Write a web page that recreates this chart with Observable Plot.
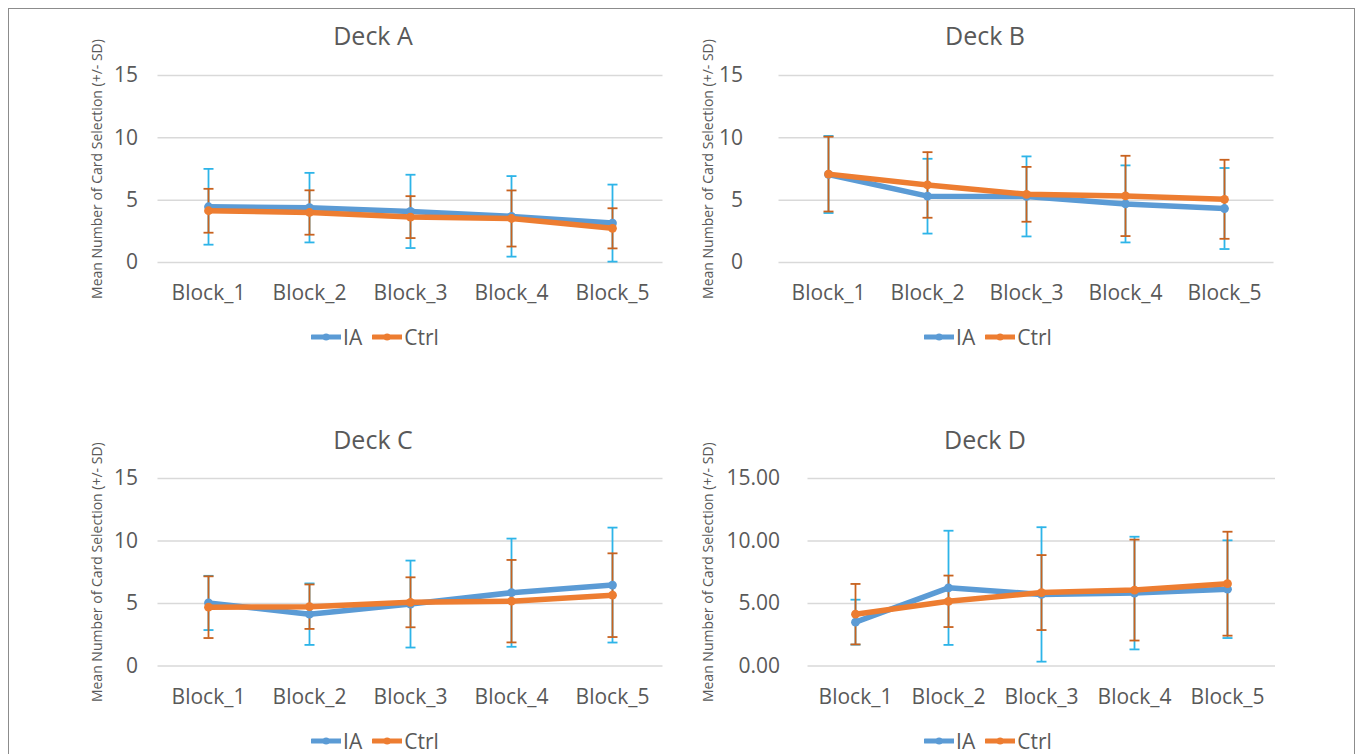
<!DOCTYPE html>
<html><head><meta charset="utf-8">
<script src="https://cdn.jsdelivr.net/npm/d3@7"></script>
<script src="https://cdn.jsdelivr.net/npm/@observablehq/plot@0.6"></script>
<style>
body{margin:0;background:#fff;}
#root{position:relative;width:1357px;height:754px;overflow:hidden;background:#fff;font-family:"Open Sans",sans-serif;color:#595959;}
.frame{position:absolute;left:8px;top:8px;width:1347px;height:800px;border:1px solid #8c8c8c;box-sizing:border-box;}
.panel{position:absolute;}
.title{position:absolute;transform:translate(-50%,-50%);font-size:25px;white-space:nowrap;color:#595959;}
.legend{position:absolute;transform:translate(-50%,-50%);display:flex;align-items:center;font-size:21px;white-space:nowrap;color:#595959;}
.legend .item{display:flex;align-items:center;margin:0 5px;}
.legend svg{margin-right:2px;}
</style></head>
<body><div id="root"><div class="frame"></div></div>
<script>
// ---- data ----
const blocks = ["Block_1", "Block_2", "Block_3", "Block_4", "Block_5"];
const seriesNames = ["IA", "Ctrl"];
const yTicks = [0, 5, 10, 15];
const yLabel = "Mean Number of Card Selection (+/- SD)";

const deckA_IA_mean   = [4.47, 4.40, 4.10, 3.70, 3.16];
const deckA_IA_sd     = [3.04, 2.79, 2.94, 3.23, 3.09];
const deckA_Ctrl_mean = [4.15, 4.01, 3.64, 3.53, 2.74];
const deckA_Ctrl_sd   = [1.76, 1.78, 1.68, 2.25, 1.61];

const deckB_IA_mean   = [7.06, 5.32, 5.30, 4.70, 4.33];
const deckB_IA_sd     = [3.09, 3.00, 3.21, 3.09, 3.25];
const deckB_Ctrl_mean = [7.09, 6.22, 5.47, 5.34, 5.07];
const deckB_Ctrl_sd   = [3.00, 2.63, 2.20, 3.22, 3.17];

const deckC_IA_mean   = [5.04, 4.14, 4.95, 5.86, 6.47];
const deckC_IA_sd     = [2.17, 2.46, 3.48, 4.33, 4.60];
const deckC_Ctrl_mean = [4.70, 4.74, 5.09, 5.18, 5.66];
const deckC_Ctrl_sd   = [2.47, 1.78, 2.00, 3.30, 3.35];

const deckD_IA_mean   = [3.50, 6.25, 5.72, 5.83, 6.14];
const deckD_IA_sd     = [1.80, 4.57, 5.38, 4.51, 3.91];
const deckD_Ctrl_mean = [4.14, 5.17, 5.87, 6.07, 6.58];
const deckD_Ctrl_sd   = [2.42, 2.06, 3.00, 4.04, 4.16];

// ---- styles ----
const lineColor = {IA: "#5B9BD5", Ctrl: "#ED7D31"};
const barColor  = {IA: "#2DB4E8", Ctrl: "#C8621F"};

const panels = [
  {title: "Deck A", ia: [deckA_IA_mean, deckA_IA_sd], ctrl: [deckA_Ctrl_mean, deckA_Ctrl_sd],
   left: 0, top: 50, width: 680, height: 270, mL: 157.5, mR: 17.5, mT: 25, mB: 58, tickPad: 20, fmt: d3.format("d"), labelDx: -60,
   titleX: 373, titleY: 35, legendX: 375, legendY: 337},
  {title: "Deck B", ia: [deckB_IA_mean, deckB_IA_sd], ctrl: [deckB_Ctrl_mean, deckB_Ctrl_sd],
   left: 680, top: 50, width: 677, height: 270, mL: 98.5, mR: 83.5, mT: 25, mB: 58, tickPad: 36, fmt: d3.format("d"), labelDx: -70,
   titleX: 985, titleY: 35, legendX: 988, legendY: 337},
  {title: "Deck C", ia: [deckC_IA_mean, deckC_IA_sd], ctrl: [deckC_Ctrl_mean, deckC_Ctrl_sd],
   left: 0, top: 453.3, width: 680, height: 270, mL: 157.5, mR: 17.5, mT: 25, mB: 57.6, tickPad: 20, fmt: d3.format("d"), labelDx: -60,
   titleX: 373, titleY: 439, legendX: 375, legendY: 741},
  {title: "Deck D", ia: [deckD_IA_mean, deckD_IA_sd], ctrl: [deckD_Ctrl_mean, deckD_Ctrl_sd],
   left: 680, top: 453.3, width: 677, height: 270, mL: 127.5, mR: 82, mT: 25, mB: 57.6, tickPad: 28, fmt: d3.format(".2f"), labelDx: -99,
   titleX: 985, titleY: 439, legendX: 988, legendY: 741}
];

const capSymbol = {draw(ctx) { ctx.moveTo(-5, 0); ctx.lineTo(5, 0); }};

function rows(series, [means, sds]) {
  return blocks.map((b, i) => ({block: b, series, mean: means[i], lo: means[i] - sds[i], hi: means[i] + sds[i]}));
}

const root = document.getElementById("root");

for (const p of panels) {
  const ia = rows("IA", p.ia);
  const ctrl = rows("Ctrl", p.ctrl);
  const errMarks = (data, s) => [
    Plot.ruleX(data, {x: "block", y1: "lo", y2: "hi", stroke: barColor[s], strokeWidth: 1.8}),
    Plot.dot(data, {x: "block", y: "lo", symbol: capSymbol, stroke: barColor[s], fill: "none", strokeWidth: 1.8}),
    Plot.dot(data, {x: "block", y: "hi", symbol: capSymbol, stroke: barColor[s], fill: "none", strokeWidth: 1.8})
  ];
  const lineMarks = (data, s) => [
    Plot.line(data, {x: "block", y: "mean", stroke: lineColor[s], strokeWidth: 5.5, strokeLinejoin: "round"}),
    Plot.dot(data, {x: "block", y: "mean", r: 4.4, fill: lineColor[s], stroke: "none"})
  ];
  const chart = Plot.plot({
    width: p.width, height: p.height,
    marginLeft: p.mL, marginRight: p.mR, marginTop: p.mT, marginBottom: p.mB,
    style: {fontFamily: "Open Sans, sans-serif", fontSize: "21px", color: "#595959", background: "transparent", overflow: "visible"},
    x: {type: "point", domain: blocks, padding: 0.5, align: 0.5},
    y: {domain: [0, 15]},
    marks: [
      Plot.gridY(yTicks, {stroke: "#d9d9d9", strokeOpacity: 1, strokeWidth: 1.5}),
      Plot.axisY(yTicks, {tickSize: 0, tickPadding: p.tickPad, tickFormat: p.fmt, label: null, fill: "#595959"}),
      Plot.axisX({tickSize: 0, tickPadding: 23, label: null, fill: "#595959"}),
      Plot.text([yLabel], {text: d => d, frameAnchor: "left", textAnchor: "middle", rotate: -90, dx: p.labelDx, fontSize: 14, fill: "#595959"}),
      ...errMarks(ia, "IA"),
      ...errMarks(ctrl, "Ctrl"),
      ...lineMarks(ia, "IA"),
      ...lineMarks(ctrl, "Ctrl")
    ]
  });
  const wrap = document.createElement("div");
  wrap.className = "panel";
  wrap.style.left = p.left + "px";
  wrap.style.top = p.top + "px";
  wrap.appendChild(chart);
  root.appendChild(wrap);

  const t = document.createElement("div");
  t.className = "title";
  t.style.left = p.titleX + "px";
  t.style.top = p.titleY + "px";
  t.textContent = p.title;
  root.appendChild(t);

  const lg = document.createElement("div");
  lg.className = "legend";
  lg.style.left = p.legendX + "px";
  lg.style.top = p.legendY + "px";
  for (const s of seriesNames) {
    const it = document.createElement("div");
    it.className = "item";
    it.innerHTML = `<svg width="30" height="12"><line x1="1" x2="29" y1="6" y2="6" stroke="${lineColor[s]}" stroke-width="5" stroke-linecap="round"/><circle cx="15" cy="6" r="3.5" fill="${lineColor[s]}"/></svg><span>${s}</span>`;
    lg.appendChild(it);
  }
  root.appendChild(lg);
}
</script>
</body></html>
